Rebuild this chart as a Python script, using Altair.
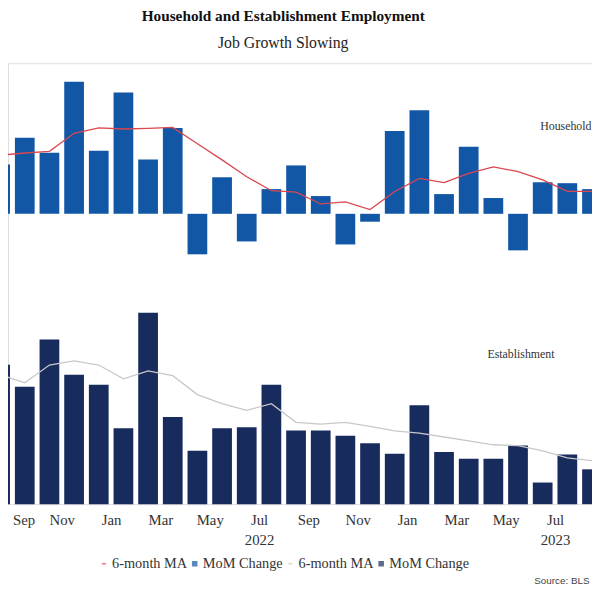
import json
import altair as alt
import pandas as pd

months = ["2021-08", "2021-09", "2021-10", "2021-11", "2021-12", "2022-01", "2022-02",
          "2022-03", "2022-04", "2022-05", "2022-06", "2022-07", "2022-08", "2022-09",
          "2022-10", "2022-11", "2022-12", "2023-01", "2023-02", "2023-03", "2023-04",
          "2023-05", "2023-06", "2023-07", "2023-08"]

# Household survey, MoM change and 6-month moving average (thousands)
hh_mom = [425, 655, 527, 1139, 544, 1046, 468, 740, -349, 315, -238, 213, 417,
          153, -264, -68, 714, 893, 170, 578, 136, -315, 272, 264, 213]
hh_ma = [505, 524, 539, 694, 740, 731, 737, 745, 604, 465, 320, 199, 187,
         85, 102, 37, 193, 306, 269, 349, 405, 363, 292, 193, 193]

# Establishment survey, MoM change and 6-month moving average (thousands)
es_mom = [664, 559, 785, 617, 569, 362, 912, 415, 254, 362, 367, 569, 351,
          351, 326, 290, 240, 471, 248, 216, 216, 279, 103, 236, 166]
es_ma = [617, 578, 663, 683, 663, 597, 635, 612, 522, 479, 447, 479, 390,
         381, 390, 371, 349, 338, 320, 301, 283, 279, 254, 221, 207]

tick_values = [0.5, 2.5, 4.5, 6.5, 8.5, 10.5, 12.5, 14.5, 16.5, 18.5, 20.5, 22.5]
tick_labels = ["Sep", "Nov", "Jan", "Mar", "May", ["Jul", "2022"], "Sep", "Nov",
               "Jan", "Mar", "May", ["Jul", "2023"]]

series_codes = ["hh_ma", "hh_mom", "es_ma", "es_mom"]
series_names = ["6-month MA", "MoM Change", "6-month MA", "MoM Change"]
series_colors = ["#D9474F", "#1157A6", "#C8C8C8", "#172B5C"]
series_shapes = ["stroke", "square", "stroke", "square"]

idx = list(range(len(months)))


def table(values, code):
    return pd.DataFrame({
        "month": months, "idx": idx,
        "x0": [i - 0.4 for i in idx], "x1": [i + 0.4 for i in idx],
        "value": values, "series": code, "zero": 0,
    })


hh_bar_df = table(hh_mom, "hh_mom")
hh_ma_df = table(hh_ma, "hh_ma")
es_bar_df = table(es_mom, "es_mom")
es_ma_df = table(es_ma, "es_ma")

hh_note = pd.DataFrame({"idx": [21.9], "value": [754], "label": ["Household"]})
es_note = pd.DataFrame({"idx": [19.76], "value": [714], "label": ["Establishment"]})
src_note = pd.DataFrame({"idx": [23.9], "value": [-367], "label": ["Source: BLS"]})

serif = "Liberation Serif"

x_scale = alt.Scale(domain=[0.32, 24], nice=False, zero=False)
label_expr = f"{json.dumps(tick_labels)}[indexof({json.dumps(tick_values)}, datum.value)]"
x_axis = alt.Axis(values=tick_values, labelExpr=label_expr, title=None, grid=False,
                  ticks=False, domain=False, labelFont=serif, labelFontSize=15,
                  labelColor="#333333", labelPadding=9, labelOverlap=False,
                  labelFlush=10, labelFlushOffset=0, labelLineHeight=20)

y_hh = alt.Scale(domain=[-2502, 1298], nice=False, zero=False)
y_es = alt.Scale(domain=[0, 2101], nice=False, zero=False)

color = alt.Color("series:N", scale=alt.Scale(domain=series_codes, range=series_colors),
                  legend=alt.Legend(title=None, orient="none", direction="horizontal",
                                    legendX=90, legendY=500,
                                    labelExpr=f"{json.dumps(dict(zip(series_codes, series_names)))}[datum.value]",
                                    labelFont=serif, labelFontSize=14.5, labelColor="#333333",
                                    symbolSize=16, symbolStrokeWidth=1.6,
                                    columnPadding=0, labelOffset=1, padding=0))
stroke = alt.Stroke("series:N", scale=alt.Scale(domain=series_codes, range=series_colors))
shape = alt.Shape("series:N", scale=alt.Scale(domain=series_codes, range=series_shapes))

hh_bars = alt.Chart(hh_bar_df).mark_bar().encode(
    x=alt.X("x0:Q", scale=x_scale, axis=x_axis), x2="x1",
    y=alt.Y("value:Q", scale=y_hh, axis=None), y2="zero:Q", color=color)
hh_line = alt.Chart(hh_ma_df).mark_line(strokeWidth=1.3).encode(
    x=alt.X("idx:Q", scale=x_scale, axis=x_axis),
    y=alt.Y("value:Q", scale=y_hh, axis=None), color=color)
hh_text = alt.Chart(hh_note).mark_text(align="left", baseline="middle", font=serif,
                                       fontSize=12, color="#333333").encode(
    x=alt.X("idx:Q", scale=x_scale, axis=x_axis),
    y=alt.Y("value:Q", scale=y_hh, axis=None), text="label:N")

es_bars = alt.Chart(es_bar_df).mark_bar().encode(
    x=alt.X("x0:Q", scale=x_scale, axis=x_axis), x2="x1",
    y=alt.Y("value:Q", scale=y_es, axis=None), y2="zero:Q", color=color)
es_line = alt.Chart(es_ma_df).mark_line(strokeWidth=1.3).encode(
    x=alt.X("idx:Q", scale=x_scale, axis=x_axis),
    y=alt.Y("value:Q", scale=y_es, axis=None), color=color)
es_text = alt.Chart(es_note).mark_text(align="left", baseline="middle", font=serif,
                                       fontSize=12, color="#333333").encode(
    x=alt.X("idx:Q", scale=x_scale, axis=x_axis),
    y=alt.Y("value:Q", scale=y_es, axis=None), text="label:N")
src_text = alt.Chart(src_note).mark_text(align="right", baseline="middle", font="Liberation Sans",
                                         fontSize=10, color="#444444").encode(
    x=alt.X("idx:Q", scale=x_scale, axis=x_axis),
    y=alt.Y("value:Q", scale=y_es, axis=None), text="label:N")

# off-canvas points that only give the legend its line / square symbols
legend_pts = alt.Chart(pd.DataFrame({"series": series_codes})).mark_point(
    filled=True, clip=True, strokeWidth=1.6).encode(
    x=alt.value(-200), y=alt.value(-200), color=color, stroke=stroke, shape=shape)

hh_layer = alt.layer(hh_bars, hh_line, hh_text)
es_layer = alt.layer(es_bars, es_line, es_text, src_text)

chart = alt.layer(hh_layer, es_layer, legend_pts).resolve_scale(y="independent").properties(
    width=592, height=447,
    autosize=alt.AutoSizeParams(type="none"),
    padding={"left": 0, "top": 52, "right": 0, "bottom": 78},
    title=alt.Title("Household and Establishment Employment", subtitle="Job Growth Slowing",
                    font=serif, fontSize=15.5, fontWeight="bold", color="#111111",
                    subtitleFont=serif, subtitleFontSize=16, subtitleColor="#222222",
                    anchor="middle", dx=-17, offset=12, subtitlePadding=11),
).configure_view(stroke="transparent", strokeWidth=0
).configure_axis(grid=False, domain=False, ticks=False
).configure(background="white")

chart.save("out.html", embed_options={"renderer": "svg", "actions": False})
